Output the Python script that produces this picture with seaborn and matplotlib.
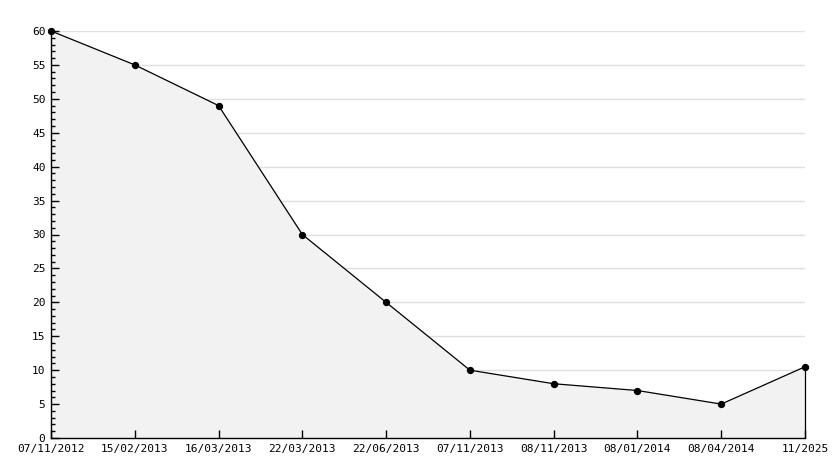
import matplotlib
matplotlib.use("Agg")
import matplotlib.pyplot as plt
import seaborn as sns
import pandas as pd
from matplotlib.ticker import MultipleLocator

# Datos
fechas = ['07/11/2012', '15/02/2013', '16/03/2013', '22/03/2013', '22/06/2013',
          '07/11/2013', '08/11/2013', '08/01/2014', '08/04/2014', '11/2025']
valores = [60, 55, 49, 30, 20, 10, 8, 7, 5, 10.5]

df = pd.DataFrame({'pos': range(len(fechas)), 'valor': valores})

sns.set_style("white")
plt.rcParams['font.family'] = ['DejaVu Sans Mono', 'DejaVu Sans']

fig = plt.figure(figsize=(8.34, 4.68), dpi=100)
ax = fig.add_axes([51 / 834, 30 / 468, (805 - 51) / 834, (438 - 31) / 468])

ax.set_xlim(0, len(fechas) - 1)
ax.set_ylim(0, 60)
ax.set_xticks(range(len(fechas)))
ax.set_xticklabels(fechas)
ax.yaxis.set_major_locator(MultipleLocator(5))
ax.yaxis.set_minor_locator(MultipleLocator(1))

# rejilla horizontal por debajo del area
for yv in ax.get_yticks():
    if 0 < yv <= 60:
        ax.axhline(yv, color='#e0e0e0', linewidth=1, zorder=0.1)

ax.fill_between(df['pos'], df['valor'], 0, color='#f2f2f2', zorder=1)
# borde vertical al final del area
ax.vlines(df['pos'].iloc[-1], 0, df['valor'].iloc[-1], color='black',
          linewidth=0.9, zorder=2, clip_on=False)
sns.lineplot(x='pos', y='valor', data=df, ax=ax, color='black', linewidth=0.9,
             marker='o', markersize=4.5, markeredgecolor='black', zorder=3,
             clip_on=False)

ax.set_axisbelow(False)
ax.tick_params(axis='both', which='major', direction='in', length=6, width=1,
               color='black', labelcolor='black', labelsize=8, pad=4,
               bottom=True, left=True)
ax.tick_params(axis='y', which='minor', direction='in', length=3, width=1,
               color='black', left=True)

for s in ['top', 'right']:
    ax.spines[s].set_visible(False)
for s in ['left', 'bottom']:
    ax.spines[s].set_color('black')
    ax.spines[s].set_linewidth(1)
    ax.spines[s].set_zorder(4)

ax.set_xlabel('')
ax.set_ylabel('')

fig.savefig('out.png', dpi=100)
